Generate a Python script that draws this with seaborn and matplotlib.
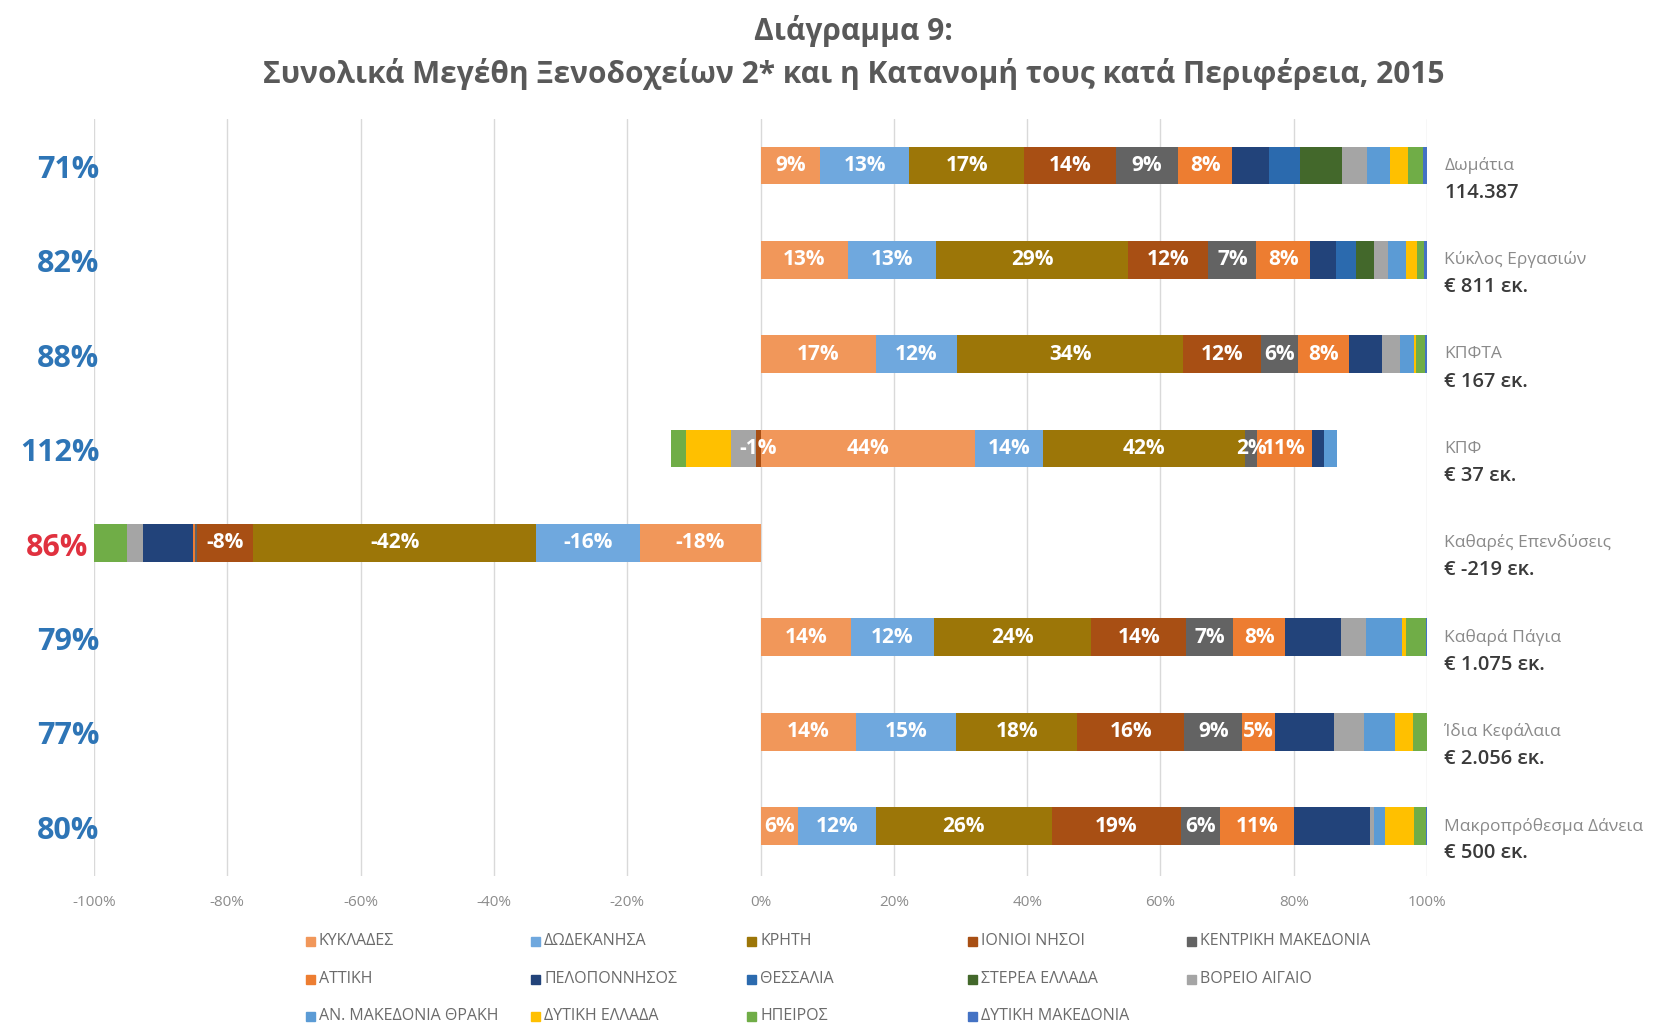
import numpy as np
import pandas as pd
import matplotlib
matplotlib.use("Agg")
import matplotlib.pyplot as plt
from matplotlib.patches import Rectangle
import seaborn as sns

# --- data (shares % per region) ---
categories = ["Δωμάτια", "Κύκλος Εργασιών", "ΚΠΦΤΑ", "ΚΠΦ", "Καθαρές Επενδύσεις",
              "Καθαρά Πάγια", "Ίδια Κεφάλαια", "Μακροπρόθεσμα Δάνεια"]
totals = ["114.387", "€ 811 εκ.", "€ 167 εκ.", "€ 37 εκ.", "€ -219 εκ.",
          "€ 1.075 εκ.", "€ 2.056 εκ.", "€ 500 εκ."]
top6_share = ["71%", "82%", "88%", "112%", "86%", "79%", "77%", "80%"]

regions = ["ΚΥΚΛΑΔΕΣ", "ΔΩΔΕΚΑΝΗΣΑ", "ΚΡΗΤΗ", "ΙΟΝΙΟΙ ΝΗΣΟΙ", "ΚΕΝΤΡΙΚΗ ΜΑΚΕΔΟΝΙΑ",
           "ΑΤΤΙΚΗ", "ΠΕΛΟΠΟΝΝΗΣΟΣ", "ΘΕΣΣΑΛΙΑ", "ΣΤΕΡΕΑ ΕΛΛΑΔΑ", "ΒΟΡΕΙΟ ΑΙΓΑΙΟ",
           "ΑΝ. ΜΑΚΕΔΟΝΙΑ ΘΡΑΚΗ", "ΔΥΤΙΚΗ ΕΛΛΑΔΑ", "ΗΠΕΙΡΟΣ", "ΔΥΤΙΚΗ ΜΑΚΕΔΟΝΙΑ"]
colors = ["#F1975A", "#6FA8DE", "#9C7608", "#A84F14", "#636363",
          "#ED7D31", "#22437A", "#2B6AAE", "#43682B", "#A5A5A5",
          "#5B9BD5", "#FFC000", "#70AD47", "#4472C4"]

rooms = [9.0, 13.3, 17.3, 13.7, 9.4, 8.1, 5.5, 4.7, 6.2, 3.8, 3.4, 2.8, 2.2, 0.6]
turnover = [13.2, 13.2, 28.7, 12.1, 7.2, 8.0, 4.0, 2.9, 2.7, 2.1, 2.7, 1.7, 1.0, 0.5]
ebitda = [17.3, 12.2, 33.9, 11.7, 5.6, 7.6, 4.9, 0.0, 0.0, 2.7, 2.1, 0.4, 1.3, 0.3]
ebt = [44.0, 13.9, 41.6, -1.0, 2.4, 11.2, 2.6, 0.0, 0.0, -5.1, 2.7, -9.2, -3.1, 0.0]
net_invest = [-18.1, -15.6, -42.4, -8.4, -0.3, -0.4, -7.4, 0.0, 0.0, -2.5, 0.0, 0.0, -4.9, 0.0]
fixed_assets = [13.6, 12.4, 23.6, 14.3, 7.0, 7.8, 8.4, 0.0, 0.0, 3.7, 5.4, 0.6, 3.0, 0.2]
equity = [14.3, 15.1, 18.1, 16.1, 8.7, 4.9, 8.8, 0.0, 0.0, 4.5, 4.7, 2.7, 2.1, 0.0]
lt_loans = [5.6, 11.7, 26.4, 19.4, 5.8, 11.1, 11.4, 0.0, 0.0, 0.6, 1.7, 4.4, 1.8, 0.1]

shares = np.array([rooms, turnover, ebitda, ebt, net_invest, fixed_assets, equity, lt_loans])
# bars are drawn normalised so the gross width of each row is 100%
widths = shares / np.abs(shares).sum(axis=1, keepdims=True) * 100
cum_pos = np.cumsum(np.clip(widths, 0, None), axis=1)
cum_neg = np.cumsum(np.clip(widths, None, 0), axis=1)

sns.set_style("white")
plt.rcParams["font.family"] = ["Open Sans", "DejaVu Sans"]

fig = plt.figure(figsize=(16.54, 10.36), dpi=100)
ax = fig.add_axes([0.0568, 0.1544, 0.806, 0.7306])

# stacked bars: draw cumulative ends from outermost to innermost
for i in range(len(regions) - 1, -1, -1):
    for cum in (cum_pos, cum_neg):
        df = pd.DataFrame({"cat": categories, "val": cum[:, i]})
        sns.barplot(data=df, x="val", y="cat", orient="y", color=colors[i],
                    saturation=1, width=0.4, linewidth=0, ax=ax)

# segment labels for the six biggest regions
for r in range(len(categories)):
    for i in range(6):
        v = shares[r, i]
        if abs(v) < 0.95:
            continue
        if widths[r, i] >= 0:
            mid = cum_pos[r, i] - widths[r, i] / 2
        else:
            mid = cum_neg[r, i] - widths[r, i] / 2
        ax.text(mid, r, f"{v:.0f}%", ha="center", va="center", color="white",
                fontsize=15, fontweight="bold")

ax.set_xlim(-100, 100)
ax.set_ylim(7.53, -0.49)
ax.set_xticks(np.arange(-100, 101, 20))
ax.set_xticklabels([f"{t}%" for t in range(-100, 101, 20)], color="#8c8c8c", fontsize=11)
ax.set_yticks([])
ax.set_xlabel("")
ax.set_ylabel("")
ax.tick_params(axis="x", length=0, pad=14)
ax.grid(axis="x", color="#d9d9d9", linewidth=1)
ax.set_axisbelow(True)
sns.despine(ax=ax, left=True, bottom=True)

# left: share of the six biggest regions, right: category and total
for r, cat in enumerate(categories):
    neg = shares[r].sum() < 0
    ax.text(-100.9 if neg else -99.2, r + 0.05, top6_share[r], ha="right", va="center",
            fontsize=22, fontweight="bold",
            color="#E0313F" if neg else "#2E75B6", clip_on=False)
    ax.text(102.6, r, cat, ha="left", va="center", fontsize=12.5,
            color="#8a8a8a", clip_on=False)
    ax.text(102.6, r + 0.29, totals[r], ha="left", va="center", fontsize=14.5,
            fontweight="semibold", color="#3a3a3a", clip_on=False)

fig.text(0.516, 0.970, "Διάγραμμα 9:", ha="center", va="center",
         fontsize=21.5, fontweight="bold", color="#595959")
fig.text(0.516, 0.929, "Συνολικά Μεγέθη Ξενοδοχείων 2* και η Κατανομή τους κατά Περιφέρεια, 2015",
         ha="center", va="center", fontsize=21.5, fontweight="bold", color="#595959")

# legend laid out as in the original (5 columns, filled row by row)
col_x = [311, 536, 752, 973, 1192]
row_y = [941, 979, 1016]
W, H = 1654, 1036
for i, name in enumerate(regions):
    cx, cy = col_x[i % 5], row_y[i // 5]
    fig.patches.append(Rectangle(((cx - 5) / W, 1 - (cy + 5) / H), 9 / W, 9 / H,
                                 transform=fig.transFigure, color=colors[i]))
    fig.text((cx + 8) / W, 1 - cy / H, name, ha="left", va="center",
             fontsize=11.5, color="#6b6b6b")

fig.savefig("out.png", dpi=100, facecolor="white")
